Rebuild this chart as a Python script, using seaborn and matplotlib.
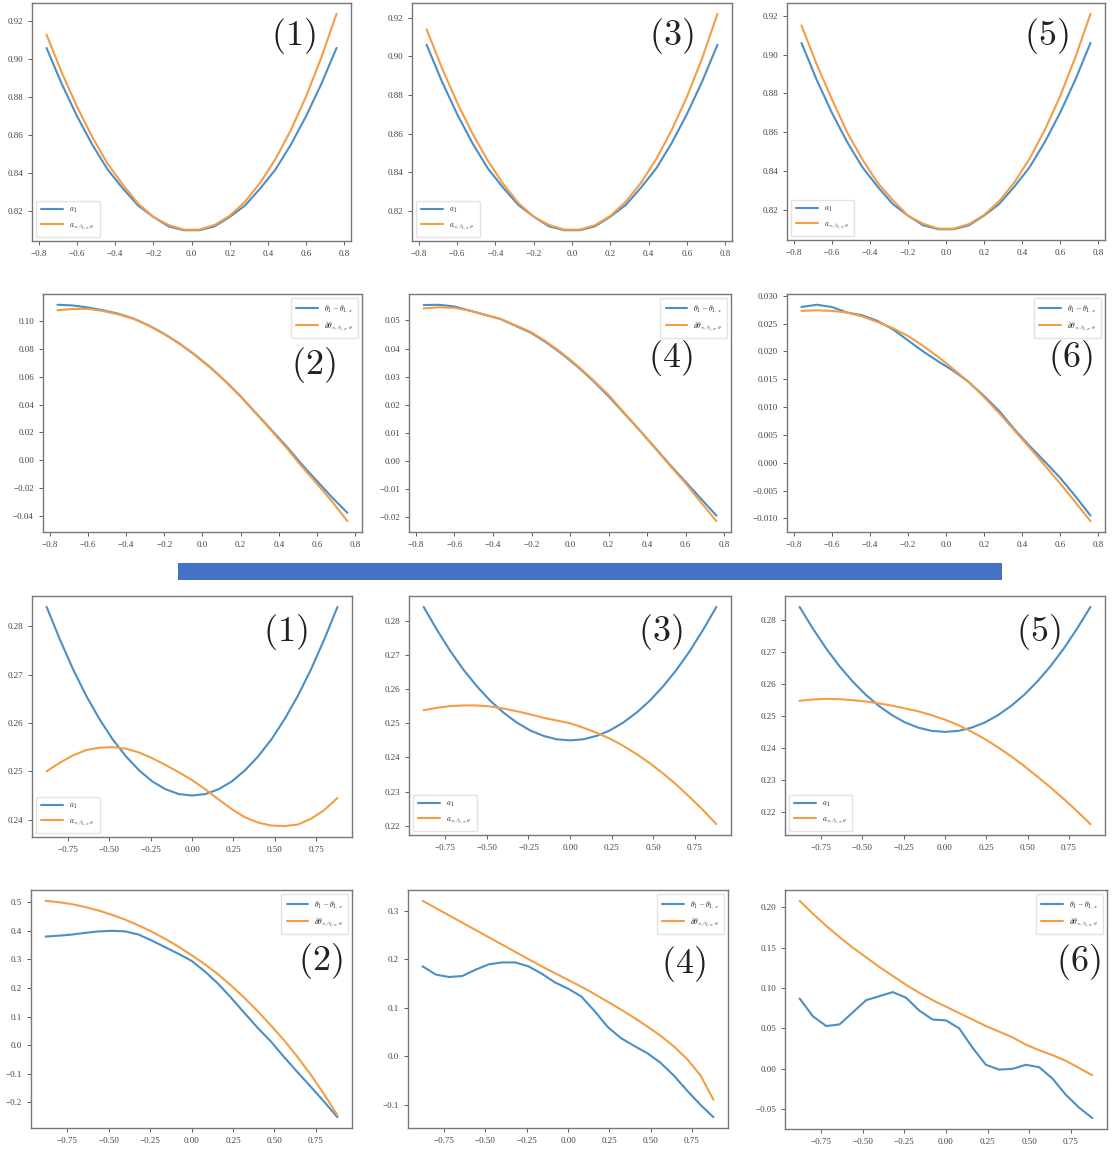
import matplotlib
matplotlib.use("Agg")
import matplotlib.pyplot as plt
from matplotlib.patches import Rectangle
import seaborn as sns

sns.set_style("ticks")
plt.rcParams["font.family"] = ["Liberation Serif", "DejaVu Serif"]
plt.rcParams["mathtext.fontset"] = "cm"

# ---------------- data ----------------
x_top = [-0.76, -0.68, -0.60, -0.52, -0.44, -0.36, -0.28, -0.20, -0.12, -0.04,
         0.04, 0.12, 0.20, 0.28, 0.36, 0.44, 0.52, 0.60, 0.68, 0.76]

a_top_blue = [0.906, 0.887, 0.870, 0.855, 0.842, 0.832, 0.823, 0.817, 0.812, 0.810,
              0.810, 0.812, 0.817, 0.823, 0.832, 0.842, 0.855, 0.870, 0.887, 0.906]
a1_orange = [0.913, 0.893, 0.875, 0.859, 0.845, 0.834, 0.824, 0.817, 0.8127, 0.8103,
             0.8103, 0.8127, 0.8176, 0.8250, 0.8350, 0.8475, 0.8626, 0.8804, 0.9009, 0.924]
a3_orange = [0.914, 0.894, 0.876, 0.860, 0.846, 0.834, 0.824, 0.817, 0.8127, 0.8103,
             0.8103, 0.8126, 0.8174, 0.8247, 0.8345, 0.8468, 0.8617, 0.8790, 0.8990, 0.922]
a5_orange = [0.915, 0.895, 0.877, 0.860, 0.846, 0.834, 0.825, 0.817, 0.8128, 0.8103,
             0.8103, 0.8126, 0.8173, 0.8245, 0.8342, 0.8464, 0.8612, 0.8785, 0.8985, 0.921]

d2_blue = [0.112, 0.1115, 0.110, 0.108, 0.1055, 0.102, 0.097, 0.091, 0.084, 0.076,
           0.067, 0.057, 0.046, 0.034, 0.022, 0.010, -0.003, -0.015, -0.027, -0.038]
d2_orange = [0.108, 0.109, 0.109, 0.1075, 0.105, 0.1018, 0.0968, 0.0908, 0.0838, 0.0758,
             0.0668, 0.0568, 0.0458, 0.0338, 0.0215, 0.0090, -0.0045, -0.0170, -0.0300, -0.044]
d4_blue = [0.0555, 0.0556, 0.055, 0.0535, 0.052, 0.0505, 0.048, 0.0455, 0.042, 0.038,
           0.0335, 0.0285, 0.023, 0.017, 0.011, 0.0048, -0.0015, -0.0075, -0.0135, -0.0195]
d4_orange = [0.0543, 0.0547, 0.0545, 0.0535, 0.052, 0.0505, 0.0482, 0.0458, 0.0423, 0.0383,
             0.0338, 0.0288, 0.0235, 0.0172, 0.0110, 0.0046, -0.0018, -0.0080, -0.0148, -0.0215]
d6_blue = [0.0280, 0.0284, 0.0280, 0.0270, 0.0265, 0.0255, 0.0240, 0.0220, 0.0200, 0.0182,
           0.0165, 0.0145, 0.0120, 0.0093, 0.0060, 0.0030, 0.0002, -0.0027, -0.0060, -0.0095]
d6_orange = [0.0273, 0.0274, 0.0273, 0.0270, 0.0263, 0.0253, 0.0242, 0.0228, 0.0210, 0.0190,
             0.0168, 0.0145, 0.0118, 0.0089, 0.0058, 0.0027, -0.0005, -0.0037, -0.0071, -0.0105]

x_bot = [-0.88, -0.80, -0.72, -0.64, -0.56, -0.48, -0.40, -0.32, -0.24, -0.16, -0.08, 0.00,
         0.08, 0.16, 0.24, 0.32, 0.40, 0.48, 0.56, 0.64, 0.72, 0.80, 0.88]

a_bot_blue = [0.284, 0.2773, 0.2711, 0.2656, 0.2608, 0.2566, 0.2531, 0.2502, 0.2479, 0.2463,
              0.2453, 0.2450, 0.2453, 0.2463, 0.2479, 0.2502, 0.2531, 0.2566, 0.2608, 0.2656,
              0.2711, 0.2773, 0.284]
b1_orange = [0.2500, 0.2518, 0.2533, 0.2544, 0.2549, 0.2550, 0.2547, 0.2539, 0.2527, 0.2513,
             0.2498, 0.2482, 0.2463, 0.2442, 0.2422, 0.2405, 0.2394, 0.2388, 0.2387, 0.2390,
             0.2402, 0.2420, 0.2445]
b3_orange = [0.2538, 0.2545, 0.2550, 0.2552, 0.2552, 0.2549, 0.2543, 0.2535, 0.2526, 0.2516,
             0.2508, 0.2500, 0.2487, 0.2472, 0.2455, 0.2434, 0.2410, 0.2383, 0.2353, 0.2320,
             0.2284, 0.2246, 0.2205]
b5_orange = [0.2547, 0.2551, 0.2553, 0.2552, 0.2549, 0.2545, 0.2539, 0.2532, 0.2523, 0.2514,
             0.2502, 0.2488, 0.2471, 0.2451, 0.2428, 0.2402, 0.2374, 0.2343, 0.2310, 0.2276,
             0.2240, 0.2202, 0.2162]

e2_blue = [0.380, 0.383, 0.387, 0.393, 0.398, 0.400, 0.398, 0.387, 0.366, 0.343,
           0.320, 0.295, 0.258, 0.215, 0.165, 0.112, 0.060, 0.012, -0.043, -0.095,
           -0.146, -0.198, -0.252]
e2_orange = [0.505, 0.500, 0.493, 0.483, 0.471, 0.456, 0.439, 0.419, 0.397, 0.372,
             0.345, 0.315, 0.283, 0.248, 0.208, 0.165, 0.118, 0.068, 0.016, -0.042,
             -0.104, -0.172, -0.245]
e4_blue = [0.185, 0.168, 0.163, 0.165, 0.178, 0.189, 0.193, 0.193, 0.185, 0.170,
           0.152, 0.139, 0.123, 0.093, 0.060, 0.037, 0.021, 0.006, -0.014, -0.040,
           -0.071, -0.100, -0.126]
e4_orange = [0.320, 0.305, 0.290, 0.275, 0.260, 0.245, 0.230, 0.215, 0.200, 0.185,
             0.171, 0.157, 0.143, 0.128, 0.112, 0.096, 0.079, 0.061, 0.042, 0.020,
             -0.006, -0.039, -0.090]
e6_blue = [0.087, 0.065, 0.053, 0.055, 0.070, 0.085, 0.090, 0.095, 0.088, 0.072,
           0.061, 0.060, 0.050, 0.026, 0.005, -0.001, 0.000, 0.005, 0.002, -0.012,
           -0.032, -0.048, -0.061]
e6_orange = [0.208, 0.192, 0.177, 0.163, 0.150, 0.138, 0.126, 0.115, 0.104, 0.094,
             0.085, 0.077, 0.069, 0.061, 0.053, 0.046, 0.039, 0.030, 0.023, 0.017,
             0.010, 0.001, -0.008]

lab_a = [r"$a_1$", r"$a_{\pi,\beta_{1,x},\theta}$"]
lab_d = [r"$\theta_1-\theta_{1,x}$", r"$\partial\theta_{\pi,\beta_{1,x},\theta}$"]

BLUE = "#4a8fc6"
ORANGE = "#f59d45"

fig = plt.figure(figsize=(11.13, 11.5), dpi=100)

# (rect, x, blue, orange, labels, legend loc, tag, tag position, x tick step)
panels = [
    ([0.0288, 0.7904, 0.2866, 0.2070], x_top, a_top_blue, a1_orange, lab_a, "lower left", "(1)", (0.82, 0.86), 0.2),
    ([0.3702, 0.7904, 0.2875, 0.2070], x_top, a_top_blue, a3_orange, lab_a, "lower left", "(3)", (0.81, 0.86), 0.2),
    ([0.7071, 0.7913, 0.2857, 0.2061], x_top, a_top_blue, a5_orange, lab_a, "lower left", "(5)", (0.815, 0.86), 0.2),
    ([0.0386, 0.5374, 0.2866, 0.2070], x_top, d2_blue, d2_orange, lab_d, "upper right", "(2)", (0.846, 0.70), 0.2),
    ([0.3675, 0.5374, 0.2893, 0.2070], x_top, d4_blue, d4_orange, lab_d, "upper right", "(4)", (0.81, 0.73), 0.2),
    ([0.7071, 0.5374, 0.2857, 0.2070], x_top, d6_blue, d6_orange, lab_d, "upper right", "(6)", (0.89, 0.73), 0.2),
    ([0.0288, 0.2722, 0.2875, 0.2096], x_bot, a_bot_blue, b1_orange, lab_a, "lower left", "(1)", (0.79, 0.85), 0.25),
    ([0.3675, 0.2739, 0.2893, 0.2078], x_bot, a_bot_blue, b3_orange, lab_a, "lower left", "(3)", (0.78, 0.85), 0.25),
    ([0.7053, 0.2739, 0.2875, 0.2078], x_bot, a_bot_blue, b5_orange, lab_a, "lower left", "(5)", (0.79, 0.85), 0.25),
    ([0.0279, 0.0191, 0.2884, 0.2070], x_bot, e2_blue, e2_orange, lab_d, "upper right", "(2)", (0.90, 0.70), 0.25),
    ([0.3666, 0.0191, 0.2875, 0.2070], x_bot, e4_blue, e4_orange, lab_d, "upper right", "(4)", (0.86, 0.69), 0.25),
    ([0.7053, 0.0183, 0.2893, 0.2078], x_bot, e6_blue, e6_orange, lab_d, "upper right", "(6)", (0.91, 0.70), 0.25),
]

for rect, xs, yb, yo, labels, loc, tag, tpos, step in panels:
    ax = fig.add_axes(rect)
    sns.lineplot(x=xs, y=yb, ax=ax, color=BLUE, lw=1.5, label=labels[0])
    sns.lineplot(x=xs, y=yo, ax=ax, color=ORANGE, lw=1.5, label=labels[1])
    ax.xaxis.set_major_locator(matplotlib.ticker.MultipleLocator(step))
    ax.tick_params(labelsize=6.5, colors="#444444", length=3, width=0.6)
    for s in ax.spines.values():
        s.set_color("#777777")
        s.set_linewidth(1.0)
    leg = ax.legend(loc=loc, fontsize=5.5, handlelength=2.8, frameon=True,
                    borderpad=0.7, labelspacing=0.7)
    leg.get_frame().set_edgecolor("#dddddd")
    ax.text(tpos[0], tpos[1], "$" + tag + "$", transform=ax.transAxes,
            fontsize=26, ha="center", va="center", color="#222222")

# separator bar between the two groups of panels
fig.add_artist(Rectangle((0.16, 0.4957), 0.7404, 0.0148, transform=fig.transFigure,
                         facecolor="#4472c4", edgecolor="none"))

fig.savefig("out.png", dpi=100)
